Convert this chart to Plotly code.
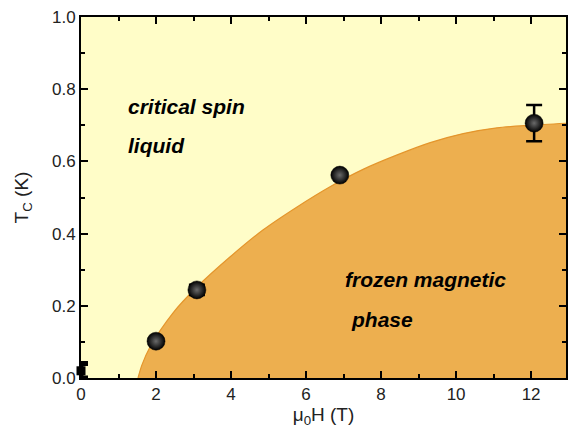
import plotly.graph_objects as go

# Measured phase transition points
field_T = [0.0, 2.0, 3.09, 6.9, 12.08]
tc_K = [0.02, 0.102, 0.244, 0.562, 0.706]
tc_err = [0.02, 0.0, 0.014, 0.0, 0.05]

# Phase boundary
bound_H = [1.52, 1.62, 1.84, 2.45, 3.09, 3.97, 4.85, 5.76, 6.64, 7.52, 8.43, 9.31, 10.19, 11.09, 11.97, 13.0]
bound_T = [0.0, 0.035, 0.086, 0.18, 0.252, 0.335, 0.41, 0.474, 0.53, 0.578, 0.618, 0.652, 0.677, 0.693, 0.70, 0.706]

x_ticks = [0, 2, 4, 6, 8, 10, 12]
y_ticks = [0.0, 0.2, 0.4, 0.6, 0.8, 1.0]
y_tick_labels = ["0.0", "0.2", "0.4", "0.6", "0.8", "1.0"]

bg_yellow = "#FFFDC8"
orange = "#EDAF4F"

fig = go.Figure()

fig.add_trace(go.Scatter(
    x=bound_H, y=bound_T, mode="lines", line=dict(color="#E4952C", width=1.2, shape="spline", smoothing=0.8),
    fill="tozeroy", fillcolor=orange, hoverinfo="skip", showlegend=False,
))

# zero-field point: thick error bar with filled body
fig.add_trace(go.Scatter(
    x=field_T[:1], y=tc_K[:1], mode="markers",
    marker=dict(size=9, color="black", symbol="square"),
    error_y=dict(type="data", array=tc_err[:1], color="black", thickness=5, width=7),
    showlegend=False, cliponaxis=False,
))

fig.add_trace(go.Scatter(
    x=field_T[1:], y=tc_K[1:], mode="markers",
    marker=dict(size=18, color="black", gradient=dict(type="radial", color="#6a6a6a"),
                line=dict(width=0.5, color="black")),
    error_y=dict(type="data", array=tc_err[1:], color="black", thickness=2.5, width=8),
    showlegend=False, cliponaxis=False,
))

font_lab = dict(family="Liberation Sans, Arial, sans-serif", size=21, color="black")
annots = [
    dict(x=1.2, y=0.752, text="<b><i>critical spin</i></b>"),
    dict(x=1.2, y=0.645, text="<b><i>liquid</i></b>"),
    dict(x=6.98, y=0.272, text="<b><i>frozen magnetic</i></b>"),
    dict(x=7.15, y=0.163, text="<b><i>phase</i></b>"),
]
for a in annots:
    fig.add_annotation(x=a["x"], y=a["y"], text=a["text"], showarrow=False,
                       xanchor="left", yanchor="middle", font=font_lab)

axis_common = dict(
    showline=True, linecolor="black", linewidth=2, mirror="ticks",
    ticks="inside", ticklen=7, tickwidth=2, tickcolor="black",
    showgrid=False, zeroline=False, automargin=False,
    tickfont=dict(family="Liberation Sans, Arial, sans-serif", size=17, color="#222"),
)

fig.update_layout(
    width=568, height=432,
    margin=dict(l=81, r=2, t=17, b=54),
    paper_bgcolor="white", plot_bgcolor=bg_yellow,
    xaxis=dict(range=[0, 12.93], tickvals=x_ticks,
               minor=dict(dtick=1, ticks="inside", ticklen=4, tickwidth=2, tickcolor="black"),
               title=dict(text="μ<sub>0</sub>H (T)", standoff=2,
                          font=dict(family="Liberation Sans, Arial, sans-serif", size=19, color="#222")),
               **axis_common),
    yaxis=dict(range=[0, 1.0], tickvals=y_ticks, ticktext=y_tick_labels,
               minor=dict(dtick=0.1, ticks="inside", ticklen=4, tickwidth=2, tickcolor="black"),
               title=dict(text="T<sub>C</sub> (K)", standoff=18,
                          font=dict(family="Liberation Sans, Arial, sans-serif", size=19, color="#222")),
               **axis_common),
)

fig.write_html("out.html", config={"displayModeBar": False},
               post_script="document.body.style.margin='0px';document.body.style.overflow='hidden';")
